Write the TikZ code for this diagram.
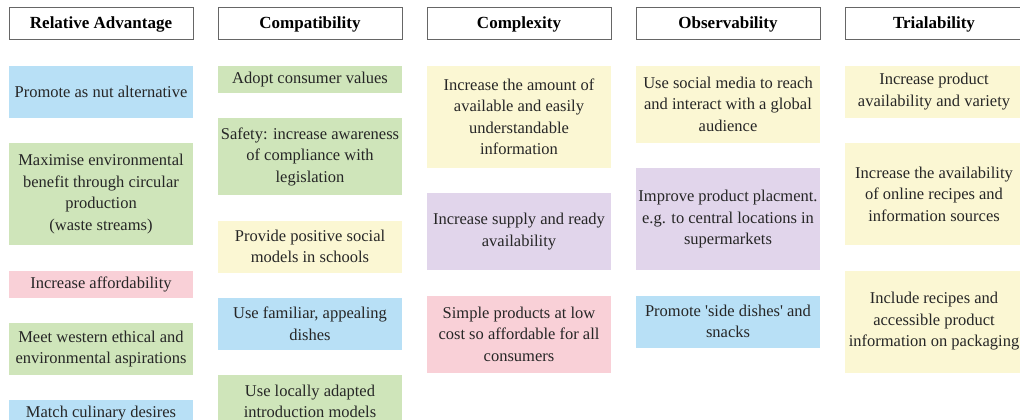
\documentclass[tikz,border=0pt]{standalone}
\usepackage{xcolor}
\usepackage{fontspec}
\setmainfont{Liberation Serif}
\newfontfamily\ideafont{Liberation Serif}
\usepackage{tikz}
\usetikzlibrary{positioning}
\definecolor{ideablue}{HTML}{B8E0F6}
\definecolor{ideagreen}{HTML}{CFE5BA}
\definecolor{ideapink}{HTML}{F9D0D7}
\definecolor{ideayellow}{HTML}{FBF7D3}
\definecolor{ideapurple}{HTML}{E1D5EB}
\tikzset{
  headblock/.style={
    rectangle, draw=black!60, line width=1pt, fill=white,
    minimum width=184pt, minimum height=32pt, inner xsep=0pt,
    align=center, font=\ideafont\fontsize{17}{21.5}\selectfont\bfseries
  },
  ideablock/.style={
    rectangle, minimum width=184pt, inner xsep=0pt, inner ysep=2pt,
    align=center, text=black!85, font=\ideafont\fontsize{16.5}{21.5}\selectfont
  },
  tall/.style={
    minimum height=25pt*#1+2pt
  }
}

\begin{document}
\begin{tikzpicture}[x=1pt, y=1pt, node distance=25pt and 24pt]
  \useasboundingbox (0,0) rectangle (1020,-420);
  \clip (0,0) rectangle (1020,-420);
  % headers
  \node[headblock] (relhdr) at (101,-24) {Relative Advantage};
  \node[headblock, right=of relhdr] (comphdr) {Compatibility};
  \node[headblock, right=of comphdr] (cplxhdr) {Complexity};
  \node[headblock, right=of cplxhdr] (obshdr) {Observability};
  \node[headblock, right=of obshdr, minimum width=178pt] (trialhdr) {Trialability};

  % relative advantage
  \node[ideablock, fill=ideablue, tall=2, below=of relhdr] (nutalt) {Promote as nut alternative};
  \node[ideablock, fill=ideagreen, tall=4, below=of nutalt] (circular) {Maximise environmental\\ benefit through circular\\ production\\ (waste streams)};
  \node[ideablock, fill=ideapink, tall=1, below=of circular] (afford) {Increase affordability};
  \node[ideablock, fill=ideagreen, tall=2, below=of afford] (ethics) {Meet western ethical and\\ environmental aspirations};
  \node[ideablock, fill=ideablue, tall=1, below=of ethics] (culinary) {Match culinary desires};

  % compatibility
  \node[ideablock, fill=ideagreen, tall=1, below=of comphdr] (values) {Adopt consumer values};
  \node[ideablock, fill=ideagreen, tall=3, below=of values] (safety) {Safety: increase awareness\\ of compliance with\\ legislation};
  \node[ideablock, fill=ideayellow, tall=2, below=of safety] (schools) {Provide positive social\\ models in schools};
  \node[ideablock, fill=ideablue, tall=2, below=of schools] (dishes) {Use familiar, appealing\\ dishes};
  \node[ideablock, fill=ideagreen, tall=2, below=of dishes] (local) {Use locally adapted\\ introduction models};

  % complexity
  \node[ideablock, fill=ideayellow, tall=4, below=of cplxhdr] (info) {Increase the amount of\\ available and easily\\ understandable\\ information};
  \node[ideablock, fill=ideapurple, tall=3, below=of info] (supply) {Increase supply and ready\\ availability};
  \node[ideablock, fill=ideapink, tall=3, below=of supply] (simple) {Simple products at low\\ cost so affordable for all\\ consumers};

  % observability
  \node[ideablock, fill=ideayellow, tall=3, below=of obshdr] (social) {Use social media to reach\\ and interact with a global\\ audience};
  \node[ideablock, fill=ideapurple, tall=4, below=of social] (placement) {Improve product placment.\\ e.g. to central locations in\\ supermarkets};
  \node[ideablock, fill=ideablue, tall=2, below=of placement] (snacks) {Promote \textquotesingle side dishes\textquotesingle{} and\\ snacks};

  % trialability
  \node[ideablock, fill=ideayellow, tall=2, minimum width=178pt, below=of trialhdr] (variety) {Increase product\\ availability and variety};
  \node[ideablock, fill=ideayellow, tall=4, minimum width=178pt, below=of variety] (recipes) {Increase the availability\\ of online recipes and\\ information sources};
  \node[ideablock, fill=ideayellow, tall=4, minimum width=178pt, below=of recipes] (packaging) {Include recipes and\\ accessible product\\ information on packaging};
\end{tikzpicture}
\end{document}
